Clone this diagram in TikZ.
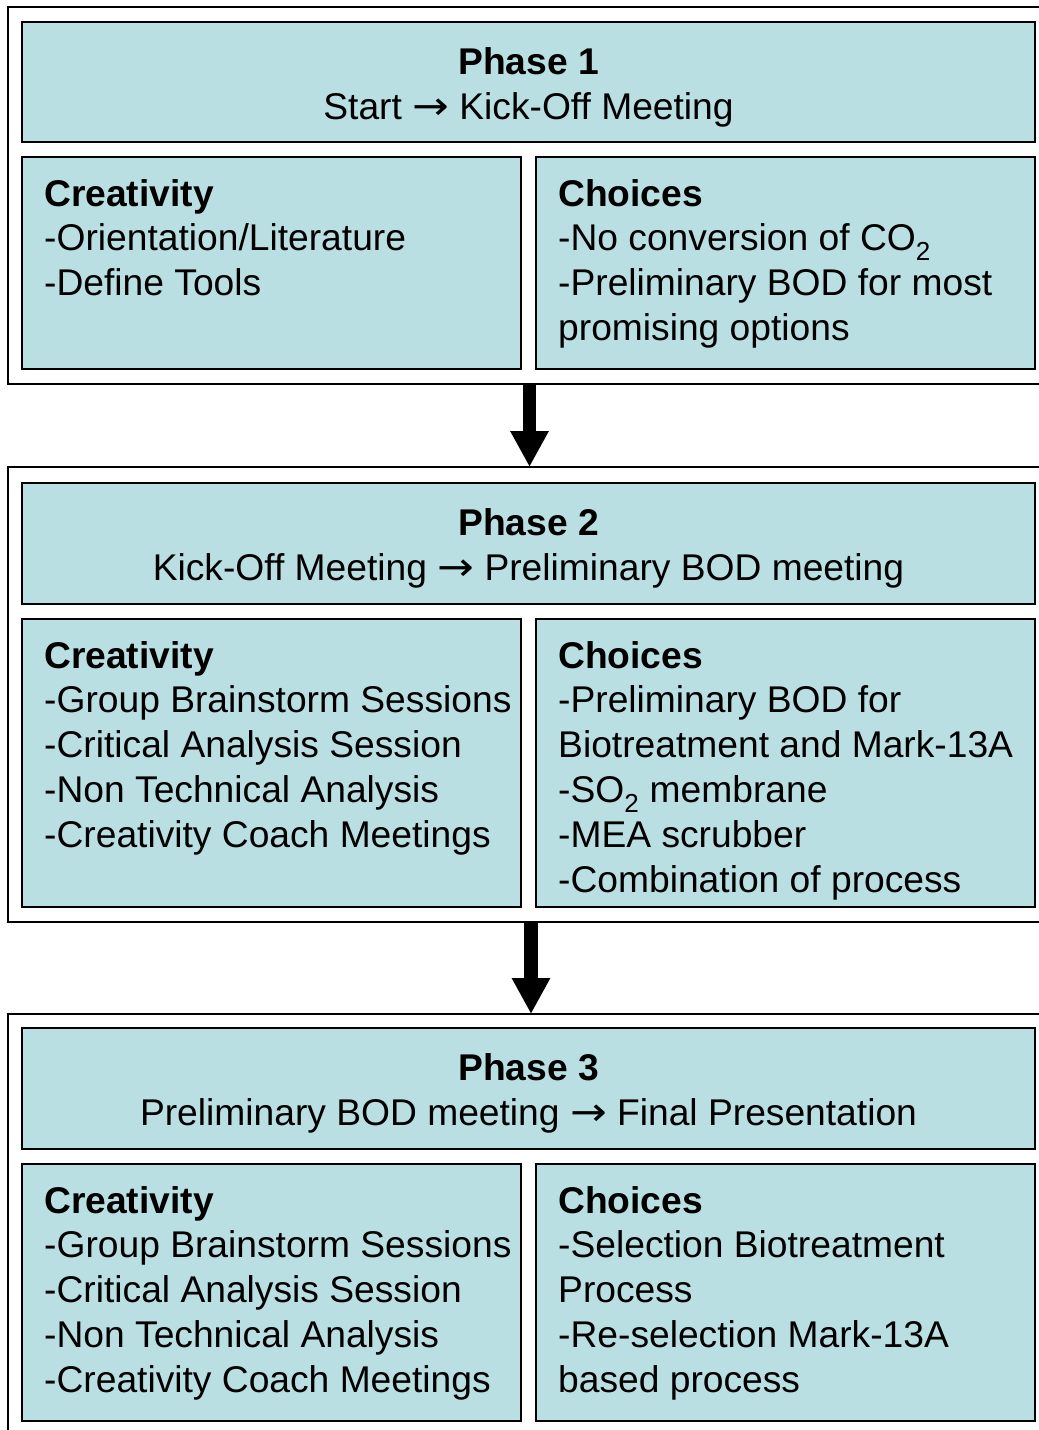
\documentclass[tikz,border=0pt]{standalone}
\usepackage{fontspec}
\setmainfont{Liberation Sans}
\newfontfamily\arrowfont{DejaVu Sans}
\usetikzlibrary{arrows.meta}
\definecolor{cellfill}{RGB}{186,223,226}
\newcommand{\goesto}{{\arrowfont\scalebox{1.18}[1.05]{→}}}
\tikzset{
  frame/.style={draw=black, line width=2pt, fill=white},
  cell/.style={draw=black, line width=2pt, fill=cellfill, inner sep=0pt, outer sep=0pt, anchor=north west},
  txt/.style={inner sep=0pt, anchor=north west, align=left, font=\fontsize{37.2}{44.8}\selectfont},
  hdr/.style={inner sep=0pt, align=center, font=\fontsize{37.2}{44.8}\selectfont},
  flow/.style={line width=13.5pt, -{Triangle[width=36pt,length=36pt]}},
}
\begin{document}
\begin{tikzpicture}[x=1pt,y=-1pt]
\useasboundingbox (0,0) rectangle (1039,1430);
\clip (0,0) rectangle (1039,1430);

% outer frames of the three phases (open to the right)
\draw[frame] (1060,7) -- (8,7) -- (8,384) -- (1060,384);
\draw[frame] (1060,467) -- (8,467) -- (8,922) -- (1060,922);
\draw[frame] (1060,1014) -- (8,1014) -- (8,1450);

% ---------- Phase 1 ----------
\node[cell, minimum width=1013pt, minimum height=120pt] (h1) at (22,22) {};
\node[hdr] (h1t) at ([yshift=-5pt]h1.center) {\textbf{Phase 1}\\Start \goesto{} Kick-Off Meeting};
\node[cell, minimum width=499pt, minimum height=212pt] (c1) at (22,157) {};
\node[cell, minimum width=499pt, minimum height=212pt] (k1) at (536,157) {};
\node[txt] (c1t) at ([shift={(22pt,-22pt)}]c1.north west) {\textbf{Creativity}\\-Orientation/Literature\\-Define Tools};
\node[txt] (k1t) at ([shift={(22pt,-22pt)}]k1.north west) {\textbf{Choices}\\-No conversion of CO\textsubscript{2}\\-Preliminary BOD for most\\promising options};

% ---------- Phase 2 ----------
\node[cell, minimum width=1013pt, minimum height=121pt] (h2) at (22,483) {};
\node[hdr] (h2t) at ([yshift=-5pt]h2.center) {\textbf{Phase 2}\\Kick-Off Meeting \goesto{} Preliminary BOD meeting};
\node[cell, minimum width=499pt, minimum height=288pt] (c2) at (22,619) {};
\node[cell, minimum width=499pt, minimum height=288pt] (k2) at (536,619) {};
\node[txt] (c2t) at ([shift={(22pt,-22pt)}]c2.north west) {\textbf{Creativity}\\-Group Brainstorm Sessions\\-Critical Analysis Session\\-Non Technical Analysis\\-Creativity Coach Meetings};
\node[txt] (k2t) at ([shift={(22pt,-22pt)}]k2.north west) {\textbf{Choices}\\-Preliminary BOD for\\Biotreatment and Mark-13A\\-SO\textsubscript{2} membrane\\-MEA scrubber\\-Combination of process};

% ---------- Phase 3 ----------
\node[cell, minimum width=1013pt, minimum height=121pt] (h3) at (22,1028) {};
\node[hdr] (h3t) at ([yshift=-5pt]h3.center) {\textbf{Phase 3}\\Preliminary BOD meeting \goesto{} Final Presentation};
\node[cell, minimum width=499pt, minimum height=257pt] (c3) at (22,1164) {};
\node[cell, minimum width=499pt, minimum height=257pt] (k3) at (536,1164) {};
\node[txt] (c3t) at ([shift={(22pt,-22pt)}]c3.north west) {\textbf{Creativity}\\-Group Brainstorm Sessions\\-Critical Analysis Session\\-Non Technical Analysis\\-Creativity Coach Meetings};
\node[txt] (k3t) at ([shift={(22pt,-22pt)}]k3.north west) {\textbf{Choices}\\-Selection Biotreatment\\Process\\-Re-selection Mark-13A\\based process};

% ---------- transitions between phases ----------
\coordinate (p1out) at (529.5,384);
\coordinate (p2in)  at (529.5,467);
\coordinate (p2out) at (531,923);
\coordinate (p3in)  at (531,1014);
\draw[flow] (p1out) -- (p2in);
\draw[flow] (p2out) -- (p3in);
\end{tikzpicture}
\end{document}
